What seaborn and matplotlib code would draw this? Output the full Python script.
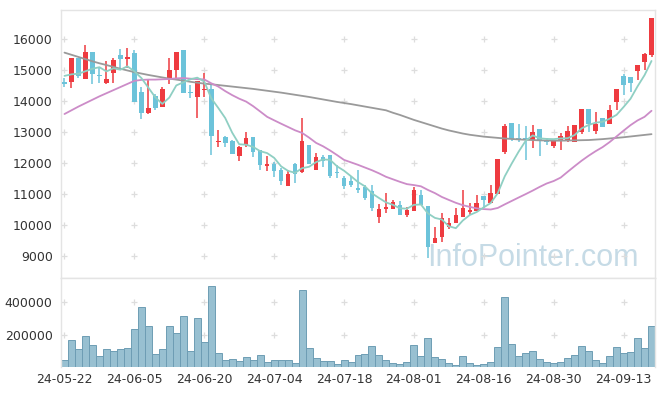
import matplotlib

matplotlib.use("Agg")
import matplotlib.pyplot as plt  # noqa: E402
import seaborn as sns  # noqa: E402

import pandas as pd

# daily candles, 24-05-22 .. 24-09-20 (85 trading days)
opens = [14620, 14620, 15380, 14720, 15580, 14840, 14590, 14910, 15480, 15370,
         15550, 14290, 13620, 14160, 13820, 14730, 15000, 15645, 14300, 14120,
         14345, 14390, 12670, 12850, 12720, 12240, 12580, 12830, 12410, 11905,
         11970, 11775, 11270, 11968, 11700, 12580, 11775, 12185, 12258, 11720,
         11516, 11420, 11205, 11216, 11107, 10250, 10516, 10506, 10645, 10323,
         10452, 10968, 10613, 9430, 9623, 9946, 10075, 10248, 10430, 10462,
         10935, 10720, 11000, 12345, 13280, 12800, 12800, 12742, 13097, 12742,
         12558, 12720, 12710, 12690, 13010, 13742, 13042, 13442, 13258, 13977,
         14806, 14764, 14977, 15268, 15484]
highs = [14730, 15380, 15380, 15790, 15580, 15090, 15300, 15380, 15670, 15700,
         15650, 14460, 14680, 14230, 14440, 15380, 15580, 15645, 14520, 14645,
         14890, 14550, 13065, 12860, 12750, 12550, 13010, 12830, 12430, 12235,
         12030, 11830, 11775, 11990, 13440, 12580, 12313, 12258, 12258, 11935,
         11580, 11580, 11774, 11290, 11290, 10667, 11043, 10806, 10774, 10590,
         11236, 11130, 10613, 9946, 10376, 10216, 10538, 11130, 10700, 10968,
         10935, 11290, 12129, 13270, 13300, 13258, 13180, 13226, 13100, 12797,
         12710, 12958, 13203, 13240, 13742, 13742, 13655, 13442, 13871, 14377,
         14871, 14764, 15161, 15558, 16668]
lows = [14440, 14410, 14750, 14720, 14550, 14570, 14550, 14590, 15020, 15050,
        13980, 13410, 13570, 13710, 13820, 14550, 14680, 14270, 14090, 13440,
        14140, 12260, 12505, 12505, 12280, 12065, 12505, 12200, 11775, 11740,
        11540, 11290, 11270, 11365, 11668, 11968, 11775, 11880, 11506, 11506,
        11150, 11216, 11022, 10806, 10462, 10074, 10376, 10506, 10323, 10248,
        10452, 10645, 8925, 9430, 9462, 9860, 10075, 10248, 10320, 10462,
        10538, 10720, 11000, 12290, 12700, 12688, 12097, 12474, 12226, 12580,
        12474, 12419, 12690, 12690, 12935, 13010, 12935, 13171, 13258, 13710,
        14194, 14300, 14677, 15000, 15430]
closes = [14540, 15380, 14820, 15580, 14880, 14790, 14700, 15320, 15355, 15430,
          13980, 13620, 13770, 13780, 14380, 15000, 15580, 14270, 14270, 14645,
          14370, 12880, 12720, 12635, 12280, 12505, 12806, 12365, 11950, 11968,
          11742, 11430, 11635, 11645, 12710, 11968, 12185, 12065, 11580, 11668,
          11258, 11290, 11130, 10882, 10540, 10516, 10580, 10731, 10323, 10484,
          11129, 10645, 9300, 9590, 10216, 10054, 10323, 10538, 10484, 10700,
          10806, 11022, 12129, 13194, 12764, 12742, 12760, 12990, 12720, 12668,
          12710, 12871, 13032, 13226, 13742, 13258, 13248, 13171, 13710, 14377,
          14516, 14590, 15161, 15516, 16668]
volumes = [45000, 169000, 113000, 188000, 138000, 70000, 113000, 97000, 113000, 120000,
           237000, 367000, 250000, 82000, 113000, 250000, 212000, 311000, 101000, 299000,
           157000, 497000, 89000, 45000, 52000, 39000, 64000, 45000, 76000, 33000,
           45000, 45000, 45000, 27000, 472000, 120000, 58000, 39000, 39000, 21000,
           45000, 33000, 76000, 82000, 132000, 76000, 45000, 27000, 21000, 33000,
           138000, 70000, 181000, 64000, 52000, 27000, 14000, 70000, 27000, 14000,
           21000, 33000, 126000, 429000, 144000, 70000, 89000, 101000, 52000, 33000,
           27000, 33000, 58000, 76000, 132000, 101000, 45000, 27000, 70000, 126000,
           89000, 95000, 181000, 120000, 250000]

# moving averages: the first values need history that is off the chart
ma5_head = [14810, 14860, 14880, 14960]
ma20_head = [13580, 13700, 13820, 13930, 14040, 14150, 14250, 14350, 14450, 14550,
             14650, 14680, 14690, 14690, 14700, 14710, 14730, 14740, 14720]
ma60 = [15560, 15490, 15420, 15350, 15280, 15216, 15160, 15100, 15040, 14985,
        14930, 14885, 14840, 14800, 14760, 14720, 14690, 14656, 14620, 14590,
        14560, 14540, 14515, 14490, 14465, 14440, 14415, 14390, 14360, 14330,
        14300, 14270, 14235, 14200, 14165, 14130, 14090, 14050, 14010, 13970,
        13935, 13900, 13860, 13820, 13780, 13740, 13700, 13620, 13550, 13470,
        13390, 13320, 13250, 13180, 13110, 13050, 13000, 12950, 12910, 12880,
        12850, 12830, 12810, 12790, 12775, 12760, 12750, 12740, 12730, 12725,
        12720, 12720, 12725, 12730, 12735, 12740, 12755, 12770, 12790, 12810,
        12830, 12855, 12880, 12905, 12930]

tick_labels = ["24-05-22", "24-06-05", "24-06-20", "24-07-04", "24-07-18",
               "24-08-01", "24-08-16", "24-08-30", "24-09-13"]
tick_step = 10
price_ticks = [9000, 10000, 11000, 12000, 13000, 14000, 15000, 16000]
volume_ticks = [200000, 400000]

UP = "#ee3b40"
DOWN = "#6cc3da"
GRID = "#dddddd"
SPINE = "#e4e4e4"
TEXT = "#333333"

df = pd.DataFrame({"open": opens, "high": highs, "low": lows,
                   "close": closes, "volume": volumes})
df["idx"] = range(len(df))
df["ma5"] = df["close"].rolling(5).mean()
df.loc[: len(ma5_head) - 1, "ma5"] = ma5_head
df["ma20"] = df["close"].rolling(20).mean()
df.loc[: len(ma20_head) - 1, "ma20"] = ma20_head
df["ma60"] = ma60
df["color"] = [UP if c >= o else DOWN for o, c in zip(df["open"], df["close"])]

sns.set_style("white")
plt.rcParams["font.family"] = ["DejaVu Sans"]

fig = plt.figure(figsize=(6.65, 3.96), dpi=100)
ax = fig.add_axes([61 / 665, 118 / 396, 594 / 665, 268 / 396])
axv = fig.add_axes([61 / 665, 29 / 396, 594 / 665, 89 / 396])

n = len(df)
xticks = list(range(0, n, tick_step))[: len(tick_labels)]

# watermark
ax.text(0.616, 0.045, "InfoPointer.com", transform=ax.transAxes,
        fontsize=22, family=["Liberation Sans", "DejaVu Sans"],
        color="#c6dbe6", ha="left", va="baseline", zorder=0.5)

# gridline crossings drawn as little plus signs
for xt in xticks:
    ax.scatter([xt] * len(price_ticks), price_ticks, marker="+", s=22,
               color=GRID, linewidths=0.9, zorder=0.6)
    axv.scatter([xt] * len(volume_ticks), volume_ticks, marker="+", s=22,
                color=GRID, linewidths=0.9, zorder=0.6)

# candles
bodies = (df["close"] - df["open"]).abs().clip(lower=28)
bottoms = df[["open", "close"]].min(axis=1)
ax.vlines(df["idx"], df["low"], df["high"], colors=df["color"], linewidth=1.1, zorder=2)
ax.bar(df["idx"], bodies, bottom=bottoms, width=0.66, color=df["color"],
       linewidth=0, zorder=3)

# moving averages
sns.lineplot(data=df, x="idx", y="ma60", ax=ax, color="#9a9a9a", linewidth=1.3, zorder=4)
sns.lineplot(data=df, x="idx", y="ma20", ax=ax, color="#cc8cc8", linewidth=1.3, zorder=4)
sns.lineplot(data=df, x="idx", y="ma5", ax=ax, color="#8fcfc3", linewidth=1.3, zorder=4)

ax.set_xlim(-0.5, n - 0.5)
ax.set_ylim(8290, 16935)
ax.set_yticks(price_ticks)
ax.set_yticklabels([str(v) for v in price_ticks])
ax.set_xticks([])
ax.set_xlabel("")
ax.set_ylabel("")

# volume
sns.barplot(data=df, x="idx", y="volume", ax=axv, color="#98c0d1", width=1.0,
            saturation=1, edgecolor="#6e9db4", linewidth=0.7, zorder=2)
axv.set_xlim(-0.5, n - 0.5)
axv.set_ylim(0, 548000)
axv.set_yticks(volume_ticks)
axv.set_yticklabels([str(v) for v in volume_ticks])
axv.set_xticks(xticks)
axv.set_xticklabels(tick_labels)
axv.set_xlabel("")
axv.set_ylabel("")

for a in (ax, axv):
    a.tick_params(length=0, labelsize=9, labelcolor=TEXT, pad=6)
    for s in a.spines.values():
        s.set_color(SPINE)
        s.set_linewidth(1)
axv.spines["bottom"].set_visible(False)
axv.tick_params(axis="x", pad=4)

fig.savefig("out.png", dpi=100, facecolor="white")
